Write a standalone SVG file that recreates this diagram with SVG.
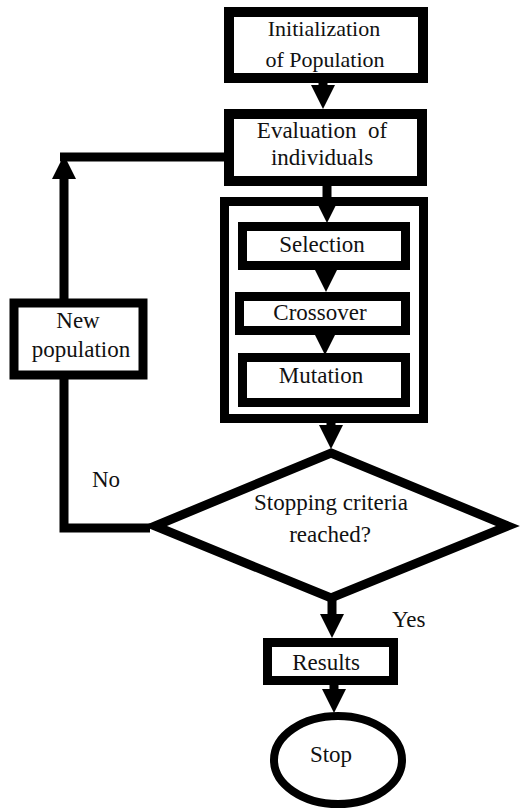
<svg xmlns="http://www.w3.org/2000/svg" width="525" height="811" viewBox="0 0 525 811">
<style>
.box{fill:#fff;stroke:#000;stroke-width:10}
.inner{fill:#fff;stroke:#000;stroke-width:9}
.con{fill:none;stroke:#000;stroke-width:9}
text{font-family:'Liberation Serif','Times New Roman',serif;font-size:23px;fill:#111}
.t{text-anchor:middle}
.s22{font-size:22px}
</style>
<defs>
<marker id="ah" markerUnits="userSpaceOnUse" markerWidth="26" markerHeight="26" refX="2" refY="12" orient="auto">
<path d="M0,0 L24,12 L0,24 z" fill="#000"/>
</marker>
</defs>
<rect width="525" height="811" fill="#fff"/>
<g id="init">
<rect class="box" x="229" y="12" width="194" height="66"/>
<text class="t s22" x="324" y="36">Initialization</text>
<text class="t s22" x="325" y="67">of Population</text>
</g>
<g id="eval">
<rect class="box" x="229" y="114" width="193" height="67"/>
<text class="t" x="322" y="138" xml:space="preserve">Evaluation  of</text>
<text class="t" x="322" y="165">individuals</text>
</g>
<g id="container">
<rect class="inner" x="224.5" y="201.5" width="199" height="217"/>
</g>
<g id="selection">
<rect class="inner" x="242.5" y="226.5" width="163" height="39"/>
<text class="t" x="322" y="252">Selection</text>
</g>
<g id="crossover">
<rect class="inner" x="239.5" y="296.5" width="166" height="34"/>
<text class="t" x="320" y="320">Crossover</text>
</g>
<g id="mutation">
<rect class="inner" x="242.5" y="357.5" width="163" height="45"/>
<text class="t" x="321" y="383">Mutation</text>
</g>
<g id="newpop">
<rect class="inner" x="14" y="303" width="129" height="72"/>
<text class="t" x="78" y="328">New</text>
<text class="t" x="81" y="357">population</text>
</g>
<g id="decision">
<polygon points="331,453 508,526 331,598 155,526" fill="#fff" stroke="#000" stroke-width="9"/>
<text class="t" x="331" y="510">Stopping criteria</text>
<text class="t" x="330" y="542">reached?</text>
</g>
<g id="results">
<rect class="inner" x="267.5" y="642.5" width="126" height="38"/>
<text class="t" x="326" y="670">Results</text>
</g>
<g id="stop">
<ellipse cx="338" cy="760" rx="64" ry="44" fill="#fff" stroke="#000" stroke-width="8"/>
<text class="t" x="331" y="762">Stop</text>
</g>
<g id="connectors">
<line class="con" x1="323" y1="78" x2="323" y2="87" marker-end="url(#ah)"/>
<line class="con" x1="327" y1="181" x2="327" y2="201" marker-end="url(#ah)"/>
<line class="con" x1="326" y1="266" x2="326" y2="270" marker-end="url(#ah)"/>
<line class="con" x1="325" y1="331" x2="325" y2="333" marker-end="url(#ah)"/>
<line class="con" x1="331" y1="418" x2="331" y2="427" marker-end="url(#ah)"/>
<line class="con" x1="332" y1="598" x2="332" y2="616" marker-end="url(#ah)"/>
<line class="con" x1="334" y1="681" x2="334" y2="691" marker-end="url(#ah)"/>
<line class="con" x1="64" y1="303" x2="64" y2="177" marker-end="url(#ah)"/>
<path class="con" d="M229,157 H60"/>
<path class="con" d="M64,375 V528 H150"/>
<text x="92" y="487">No</text>
<text x="392" y="627">Yes</text>
</g>
</svg>
